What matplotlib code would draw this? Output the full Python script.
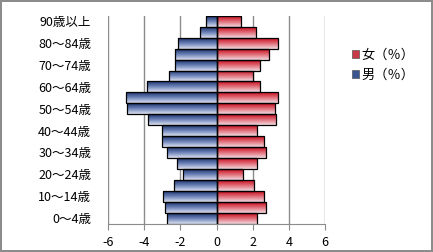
import matplotlib
matplotlib.use('Agg')
import matplotlib.pyplot as plt
import numpy as np
from matplotlib.patches import Patch
from matplotlib.colors import LinearSegmentedColormap

plt.rcParams['font.family'] = ['Noto Sans CJK JP', 'DejaVu Sans']

# data (% of population), bottom (0-4) to top (90+)
ages = ['0〜4歳', '5〜9歳', '10〜14歳', '15〜19歳', '20〜24歳', '25〜29歳',
        '30〜34歳', '35〜39歳', '40〜44歳', '45〜49歳', '50〜54歳', '55〜59歳',
        '60〜64歳', '65〜69歳', '70〜74歳', '75〜79歳', '80〜84歳', '85〜89歳',
        '90歳以上']
male = [2.74, 2.86, 2.93, 2.36, 1.86, 2.17, 2.74, 3.0, 3.0, 3.8,
        4.96, 5.01, 3.85, 2.63, 2.3, 2.3, 2.14, 0.92, 0.57]
female = [2.22, 2.72, 2.61, 2.06, 1.44, 2.22, 2.72, 2.61, 2.22, 3.28,
          3.22, 3.39, 2.39, 2.0, 2.39, 2.89, 3.39, 2.17, 1.33]

fig = plt.figure(figsize=(4.33, 2.52), dpi=100)
fig.patch.set_edgecolor('#8c8c8c')
fig.patch.set_linewidth(1.5)
ax = fig.add_axes([0.249, 0.113, 0.502, 0.824])

y = np.arange(len(ages))
bars_m = ax.barh(y, [-v for v in male], height=1.0, color='#2a4483',
                 edgecolor='black', linewidth=0.9, zorder=3)
bars_f = ax.barh(y, female, height=1.0, color='#c8141e',
                 edgecolor='black', linewidth=0.9, zorder=3)

# vertical gradient fill (dark top -> light bottom), clipped to each bar
cm_m = LinearSegmentedColormap.from_list('m', ['#1c3370', '#6f84b8', '#dde2f0'])
cm_f = LinearSegmentedColormap.from_list('f', ['#c80c1c', '#e0707c', '#f3dbe0'])
grad = np.linspace(0, 1, 64).reshape(-1, 1)
for bars, cm in [(bars_m, cm_m), (bars_f, cm_f)]:
    for b in bars:
        x0, w = b.get_x(), b.get_width()
        y0, h = b.get_y(), b.get_height()
        im = ax.imshow(grad, cmap=cm, aspect='auto', origin='upper',
                       extent=[x0, x0 + w, y0, y0 + h], zorder=3.5)
        im.set_clip_path(b)
        b.set_facecolor('none')
        b.set_zorder(4)

ax.axvline(0, color='black', lw=0.9, zorder=5)

ax.set_xlim(-6, 6)
ax.set_ylim(-0.5, len(ages) - 0.5)
ax.set_xticks([-6, -4, -2, 0, 2, 4, 6])
ax.set_xticklabels(['-6', '-4', '-2', '0', '2', '4', '6'])
ax.set_yticks(y[::2])
ax.set_yticklabels(ages[::2])
ax.tick_params(axis='y', length=0, pad=12, labelsize=9)
ax.tick_params(axis='x', length=4, color='#8c8c8c', pad=5, labelsize=9)
ax.grid(axis='x', color='#8c8c8c', lw=1.0, zorder=0)
for s in ['top', 'right', 'left']:
    ax.spines[s].set_visible(False)
ax.spines['bottom'].set_color('#8c8c8c')

handles = [Patch(facecolor='#c83a48', edgecolor='#555555', lw=0.5),
           Patch(facecolor='#3a5590', edgecolor='#555555', lw=0.5)]
fig.legend(handles, ['女（％）', '男（％）'], loc='upper left',
           bbox_to_anchor=(0.785, 0.855), frameon=False, fontsize=9.5,
           handlelength=0.55, handleheight=0.55, handletextpad=0.2,
           labelspacing=0.55)

fig.savefig('out.png', dpi=100)
